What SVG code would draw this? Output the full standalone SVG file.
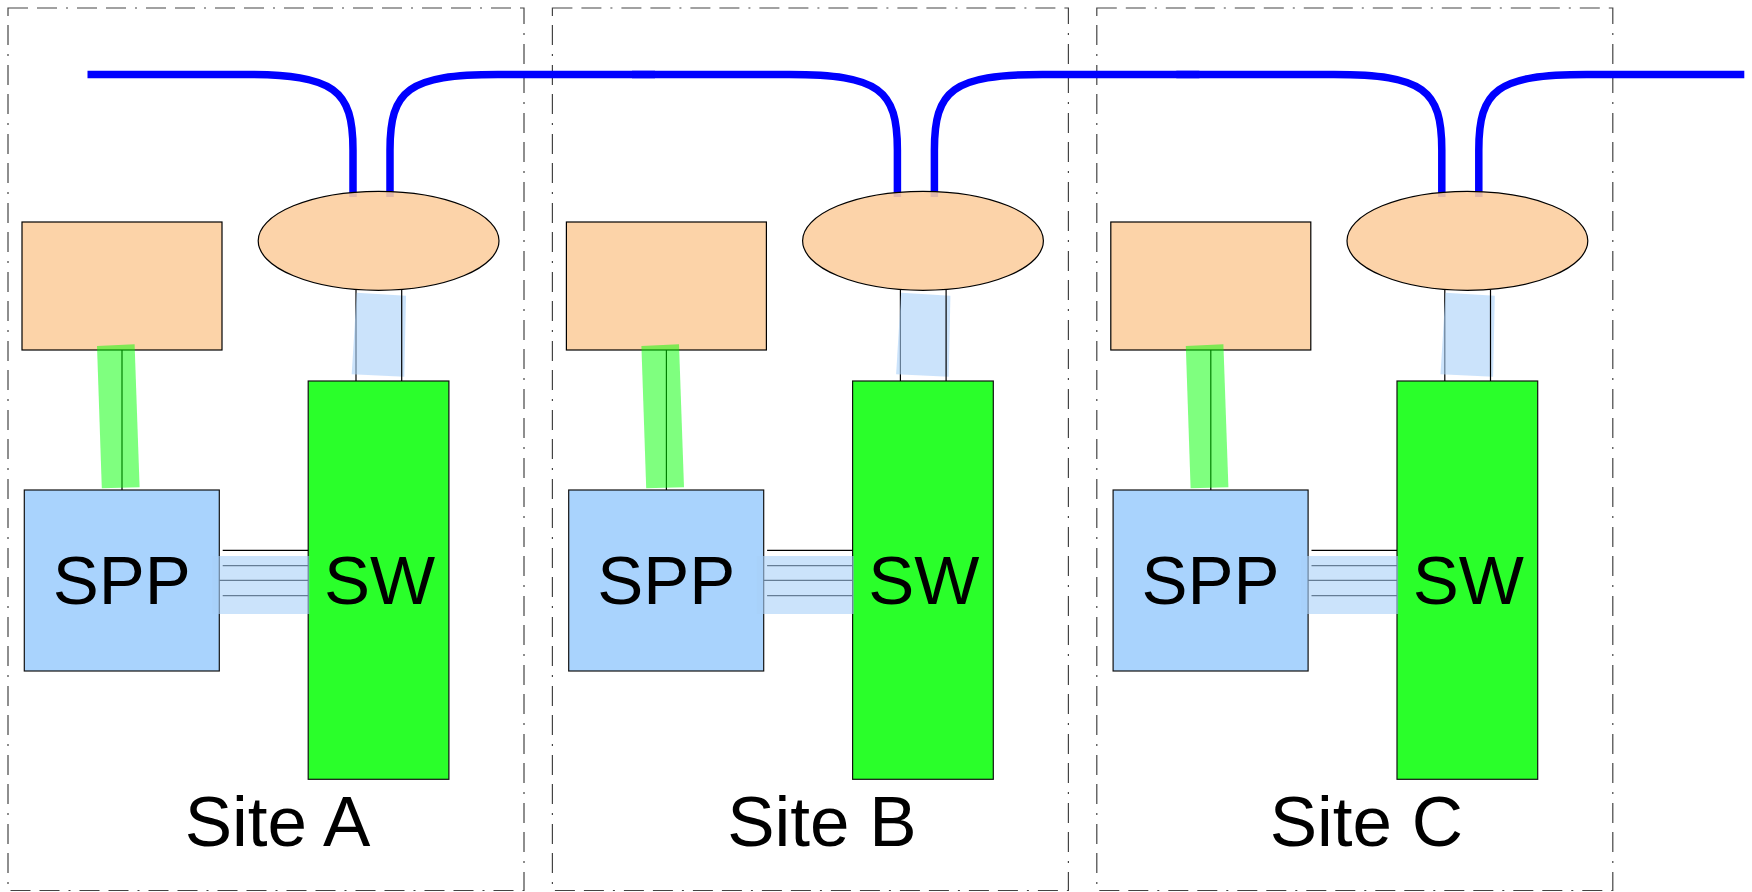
<svg xmlns="http://www.w3.org/2000/svg" xmlns:xlink="http://www.w3.org/1999/xlink" width="1752" height="892" viewBox="0 0 1752 892">
  <style>
    .frame { fill: none; stroke: #444; stroke-width: 1.2; stroke-dasharray: 20 9 20 9 2 9; }
    .trunk { fill: none; stroke: #0000ff; stroke-width: 7.5; stroke-linecap: butt; }
    .edge { stroke: #000; stroke-width: 1.2; fill: #fcd3a8; }
    .router { fill: #fccea0; fill-opacity: 0.9; stroke: #000; stroke-width: 1.2; }
    .spp { fill: #a9d3fd; stroke: #111; stroke-width: 1.2; }
    .sw { fill: #2aff2a; stroke: #111; stroke-width: 1.2; }
    .wire { stroke: #000; stroke-width: 1.2; fill: none; }
    .band-blue { fill: #a8d0f8; fill-opacity: 0.6; }
    .band-green { fill: #00ff00; fill-opacity: 0.5; }
    .lbl { font-family: "Liberation Sans", Arial, sans-serif; font-size: 69px; fill: #000; text-anchor: middle; }
    .site { font-size: 71px; }
  </style>

  <!-- site frames -->
  <g id="frames">
    <g id="site-a"><rect class="frame" x="8" y="8" width="516" height="882.5"/><text class="lbl site" x="277.5" y="846">Site A</text></g>
    <g id="site-b" transform="translate(544.4,0)"><rect class="frame" x="8" y="8" width="516" height="882.5"/><text class="lbl site" x="277.5" y="846">Site B</text></g>
    <g id="site-c" transform="translate(1088.8,0)"><rect class="frame" x="8" y="8" width="516" height="882.5"/><text class="lbl site" x="277.5" y="846">Site C</text></g>
  </g>

  <!-- backbone trunk: each site taps in with two branches -->
  <g id="trunk">
    <g>
      <path class="trunk" d="M87.5,74.5 H245 C335,74.5 353,90 353,150 V197"/>
      <path class="trunk" d="M390,197 V150 C390,90 408,74.5 498,74.5 H655"/>
    </g>
    <g transform="translate(544.4,0)">
      <path class="trunk" d="M87.5,74.5 H245 C335,74.5 353,90 353,150 V197"/>
      <path class="trunk" d="M390,197 V150 C390,90 408,74.5 498,74.5 H655"/>
    </g>
    <g transform="translate(1088.8,0)">
      <path class="trunk" d="M87.5,74.5 H245 C335,74.5 353,90 353,150 V197"/>
      <path class="trunk" d="M390,197 V150 C390,90 408,74.5 498,74.5 H655.5"/>
    </g>
  </g>

  <!-- nodes, site A -->
  <g id="a-router"><ellipse class="router" cx="378.6" cy="240.8" rx="120.4" ry="49.5"/></g>
  <g id="a-host"><rect class="edge" x="22" y="222" width="200" height="128"/></g>
  <g id="a-spp"><rect class="spp" x="24.3" y="490" width="195" height="181"/><text class="lbl" x="121.8" y="604">SPP</text></g>
  <g id="a-sw"><rect class="sw" x="308.2" y="381" width="140.7" height="398.3"/><text class="lbl" x="379.5" y="604">SW</text></g>

  <!-- nodes, site B -->
  <g id="b-router" transform="translate(544.4,0)"><ellipse class="router" cx="378.6" cy="240.8" rx="120.4" ry="49.5"/></g>
  <g id="b-host" transform="translate(544.4,0)"><rect class="edge" x="22" y="222" width="200" height="128"/></g>
  <g id="b-spp" transform="translate(544.4,0)"><rect class="spp" x="24.3" y="490" width="195" height="181"/><text class="lbl" x="121.8" y="604">SPP</text></g>
  <g id="b-sw" transform="translate(544.4,0)"><rect class="sw" x="308.2" y="381" width="140.7" height="398.3"/><text class="lbl" x="379.5" y="604">SW</text></g>

  <!-- nodes, site C -->
  <g id="c-router" transform="translate(1088.8,0)"><ellipse class="router" cx="378.6" cy="240.8" rx="120.4" ry="49.5"/></g>
  <g id="c-host" transform="translate(1088.8,0)"><rect class="edge" x="22" y="222" width="200" height="128"/></g>
  <g id="c-spp" transform="translate(1088.8,0)"><rect class="spp" x="24.3" y="490" width="195" height="181"/><text class="lbl" x="121.8" y="604">SPP</text></g>
  <g id="c-sw" transform="translate(1088.8,0)"><rect class="sw" x="308.2" y="381" width="140.7" height="398.3"/><text class="lbl" x="379.5" y="604">SW</text></g>

  <!-- connectors -->
  <defs>
    <g id="site-links">
      <!-- host to SPP -->
      <line class="wire" x1="122" y1="350" x2="122" y2="490"/>
      <polygon class="band-green" points="97,346 134.6,344.3 139.6,487.3 101.8,488.3"/>
      <!-- router to SW -->
      <line class="wire" x1="356" y1="289.6" x2="356" y2="381"/>
      <polygon class="band-blue" points="356.7,292.7 406,295.7 404.3,376.7 351.7,374.3"/>
      <line class="wire" x1="401.7" y1="289.6" x2="401.7" y2="381"/>
      <!-- SPP to SW link bundle -->
      <line class="wire" x1="222.7" y1="550.3" x2="308.2" y2="550.3"/>
      <line class="wire" x1="222.7" y1="565.7" x2="308.2" y2="565.7"/>
      <line class="wire" x1="219.3" y1="580.3" x2="308.2" y2="580.3"/>
      <line class="wire" x1="222.7" y1="595.7" x2="308.2" y2="595.7"/>
      <rect class="band-blue" x="212.3" y="556" width="97" height="58"/>
    </g>
  </defs>
  <g id="connectors">
    <use xlink:href="#site-links"/>
    <use xlink:href="#site-links" transform="translate(544.4,0)"/>
    <use xlink:href="#site-links" transform="translate(1088.8,0)"/>
  </g>
</svg>
